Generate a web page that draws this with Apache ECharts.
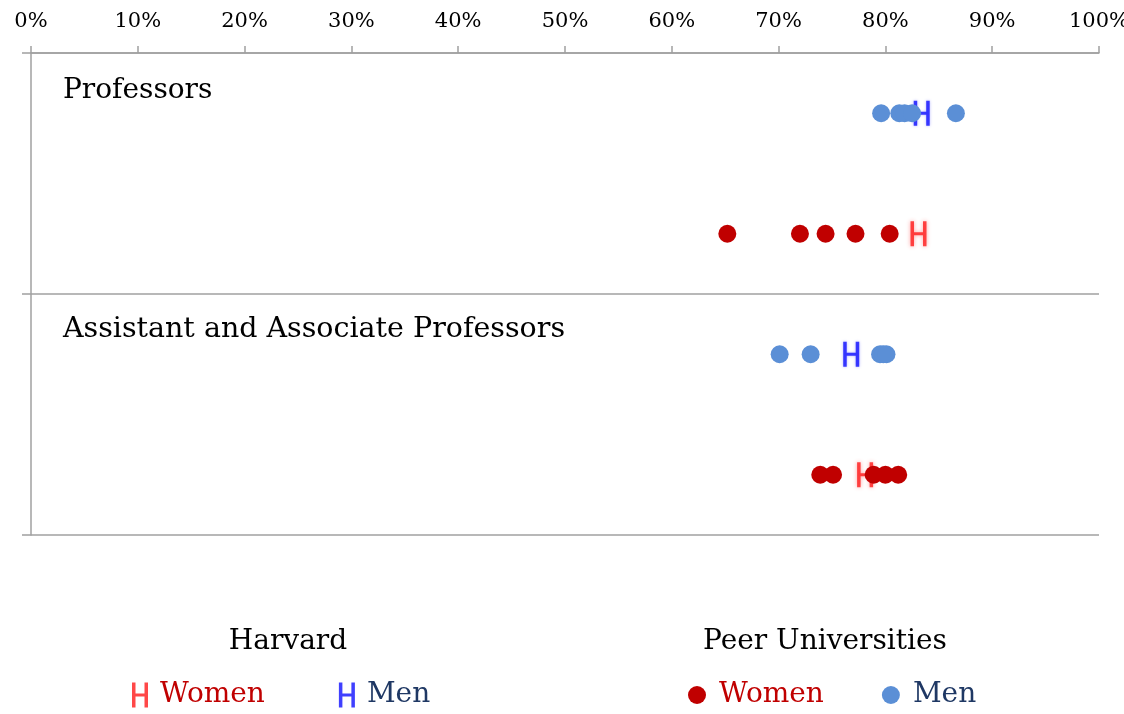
<!DOCTYPE html>
<html><head><meta charset="utf-8">
<script src="https://cdn.jsdelivr.net/npm/echarts@6/dist/echarts.min.js"></script>
<style>html,body{margin:0;padding:0;background:#fff}#c{width:1124px;height:714px}</style>
</head><body><div id="c"></div>
<script>
// Row categories (top to bottom)
const rowCategories = ['Professors · Men', 'Professors · Women', 'Assistant and Associate Professors · Men', 'Assistant and Associate Professors · Women'];
const groupLabels = ['Professors', 'Assistant and Associate Professors'];

// Peer universities (percent)
const peerMenProfessors = [79.6, 81.3, 81.8, 82.5, 86.6];
const peerWomenProfessors = [65.2, 72.0, 74.4, 77.2, 80.4];
const peerMenAssistant = [70.1, 73.0, 79.5, 79.8, 80.1];
const peerWomenAssistant = [73.9, 75.1, 78.9, 80.0, 81.2];

// Harvard (percent): [Professors, Assistant and Associate]
const harvardMen = [83.4, 76.8];
const harvardWomen = [83.1, 78.1];

const SERIF = 'DejaVu Serif';
const H_PATH = 'path://M0,0H3.5V11H12.5V0H16V25H12.5V14H3.5V25H0Z';

const pts = (vals, cat) => vals.map(v => [v, cat]);

const chart = echarts.init(document.getElementById('c'));
chart.setOption({
  animation: false,
  backgroundColor: '#fff',
  grid: { left: 31, right: 25, top: 53, bottom: 179, containLabel: false, outerBoundsMode: 'none' },
  xAxis: {
    type: 'value', position: 'top', min: 0, max: 100, interval: 10,
    axisLine: { show: true, lineStyle: { color: '#a0a0a0', width: 1.5 } },
    axisTick: { show: true, inside: false, length: 7, lineStyle: { color: '#a0a0a0', width: 1.5 } },
    axisLabel: { formatter: '{value}%', color: '#000', fontFamily: SERIF, fontSize: 21, margin: 21 },
    splitLine: { show: false }
  },
  yAxis: {
    type: 'category', inverse: true, data: rowCategories,
    axisLine: { show: true, lineStyle: { color: '#a0a0a0', width: 1.5 } },
    axisTick: { show: true, interval: 1, length: 9, lineStyle: { color: '#a0a0a0', width: 1.5 } },
    axisLabel: { show: false },
    splitLine: { show: true, interval: 1, lineStyle: { color: '#a0a0a0', width: 1.5 } }
  },
  graphic: [
    { type: 'text', x: 63, y: 91, style: { text: groupLabels[0], font: '28px "DejaVu Serif"', fill: '#000', textVerticalAlign: 'middle' } },
    { type: 'text', x: 63, y: 330, style: { text: groupLabels[1], font: '28.5px "DejaVu Serif"', fill: '#000', textVerticalAlign: 'middle' } },
    { type: 'text', x: 288, y: 642, style: { text: 'Harvard', font: '28px "DejaVu Serif"', fill: '#000', textAlign: 'center', textVerticalAlign: 'middle' } },
    { type: 'text', x: 825, y: 642, style: { text: 'Peer Universities', font: '28px "DejaVu Serif"', fill: '#000', textAlign: 'center', textVerticalAlign: 'middle' } }
  ],
  legend: [
    {
      left: 127, top: 676, orient: 'horizontal', itemWidth: 16, itemHeight: 25, itemGap: 74,
      formatter: n => n.split(' ')[1],
      textStyle: { fontFamily: SERIF, fontSize: 28, padding: [0, 0, 0, 7] },
      data: [
        { name: 'Harvard Women', textStyle: { color: '#C00000' } },
        { name: 'Harvard Men', textStyle: { color: '#1F3864' } }
      ]
    },
    {
      left: 683, top: 676, orient: 'horizontal', itemWidth: 18, itemHeight: 18, itemGap: 58,
      formatter: n => n.split(' ')[1],
      textStyle: { fontFamily: SERIF, fontSize: 28, padding: [0, 0, 0, 8] },
      data: [
        { name: 'Peer Women', textStyle: { color: '#C00000' } },
        { name: 'Peer Men', textStyle: { color: '#1F3864' } }
      ]
    }
  ],
  series: [
    {
      name: 'Harvard Women', type: 'scatter', symbol: H_PATH, symbolSize: [16, 25], z: 2,
      itemStyle: { color: '#FF1A1A', shadowBlur: 4, shadowColor: 'rgba(255,60,60,0.6)' },
      data: [[harvardWomen[0], rowCategories[1]], [harvardWomen[1], rowCategories[3]]]
    },
    {
      name: 'Harvard Men', type: 'scatter', symbol: H_PATH, symbolSize: [16, 25], z: 2,
      itemStyle: { color: '#1010FF', shadowBlur: 3, shadowColor: 'rgba(60,60,255,0.5)' },
      data: [[harvardMen[0], rowCategories[0]], [harvardMen[1], rowCategories[2]]]
    },
    {
      name: 'Peer Women', type: 'scatter', symbol: 'circle', symbolSize: 18, z: 3,
      itemStyle: { color: '#C00000', opacity: 1 },
      data: pts(peerWomenProfessors, rowCategories[1]).concat(pts(peerWomenAssistant, rowCategories[3]))
    },
    {
      name: 'Peer Men', type: 'scatter', symbol: 'circle', symbolSize: 18, z: 3,
      itemStyle: { color: '#5B8FD6', opacity: 1 },
      data: pts(peerMenProfessors, rowCategories[0]).concat(pts(peerMenAssistant, rowCategories[2]))
    }
  ]
});
</script></body></html>
